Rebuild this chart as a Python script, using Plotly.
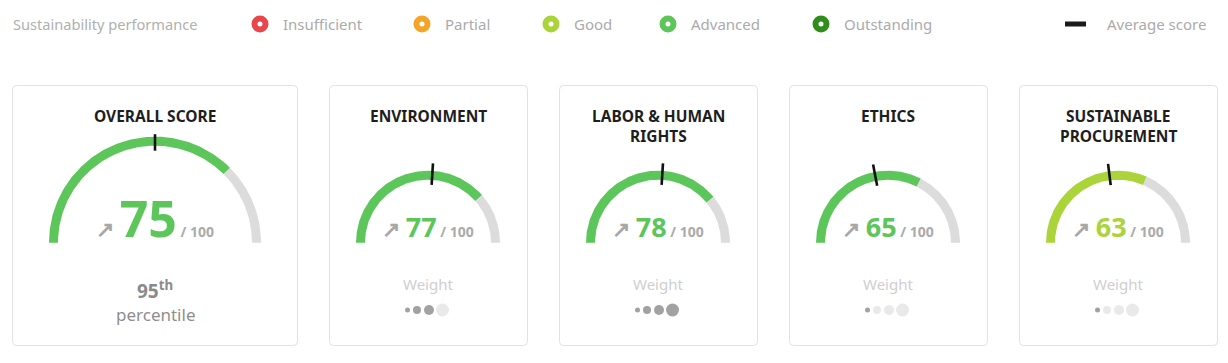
import numpy as np
import plotly.graph_objects as go

# ---------------- data ----------------
pillars = ["OVERALL SCORE", "ENVIRONMENT", "LABOR & HUMAN<br>RIGHTS", "ETHICS",
           "SUSTAINABLE<br>PROCUREMENT"]
scores = [75, 77, 78, 65, 63]
average_scores = [50, 52, 52, 44, 46]
weight_levels = [None, 3, 4, 1, 1]          # weight out of 4 dots
weight_max = 4
overall_percentile = 95
max_score = 100
performance_levels = ["Insufficient", "Partial", "Good", "Advanced", "Outstanding"]
level_thresholds = [0, 25, 45, 65, 85]
legend_title = "Sustainability performance"
average_label = "Average score"
weight_label = "Weight"
percentile_label = "percentile"

# ---------------- style / layout ----------------
W, H = 1228, 363
FONT = "Noto Sans"
level_colors = ["#E8464B", "#F4A426", "#AAD43A", "#5CC65A", "#2F8E1B"]
track_color = "#DCDCDC"
legend_text_color = "#ABABAB"
card_x0 = [12.5, 329.5, 559.5, 789.5, 1019.5]
card_x1 = [297.5, 527.5, 757.5, 987.5, 1217.5]
card_y0, card_y1 = 85.5, 345.5
gauge_cx = [155, 428, 658, 888, 1118]
gauge_cy = 242.7
gauge_r_out = [106, 72, 72, 72, 72]
gauge_thick = 9
tick_r = [(92, 108.5)] + [(58, 79.5)] * 4
num_size = [50, 27, 27, 27, 27]
title_y0, title_dy = 116, 20
legend_y = 24
legend_marker_x = [260, 422, 551, 668, 821]
avg_legend_x = (1065, 1086)
avg_text_x = 1105
dot_dx = [-20.5, -11, 1, 14.5]
dot_size = [5, 8, 10, 13]
dot_on, dot_off = "#7A7A7A", "#E0E0E0"


def level_color(v):
    idx = 0
    for i, t in enumerate(level_thresholds):
        if v >= t:
            idx = i
    return level_colors[idx]


def band(cx, cy, r0, r1, s0, s1, n=140):
    s = np.linspace(s0, s1, n)
    th = np.pi * (1 - s / max_score)
    xo, yo = cx + r1 * np.cos(th), cy - r1 * np.sin(th)
    xi, yi = cx + r0 * np.cos(th[::-1]), cy - r0 * np.sin(th[::-1])
    return np.concatenate([xo, xi, xo[:1]]), np.concatenate([yo, yi, yo[:1]])


def rounded_rect(x0, y0, x1, y1, r=4):
    return (f"M{x0 + r},{y0} L{x1 - r},{y0} Q{x1},{y0} {x1},{y0 + r} "
            f"L{x1},{y1 - r} Q{x1},{y1} {x1 - r},{y1} L{x0 + r},{y1} "
            f"Q{x0},{y1} {x0},{y1 - r} L{x0},{y0 + r} Q{x0},{y0} {x0 + r},{y0} Z")


fig = go.Figure()
shapes, annotations = [], []

# cards
for x0, x1 in zip(card_x0, card_x1):
    shapes.append(dict(type="path", path=rounded_rect(x0, card_y0, x1, card_y1),
                       line=dict(color="#E2E2E2", width=1), fillcolor="white",
                       layer="below", xref="x", yref="y"))

for i, (name, sc, avg) in enumerate(zip(pillars, scores, average_scores)):
    cx, r1 = gauge_cx[i], gauge_r_out[i]
    r0 = r1 - gauge_thick
    col = level_color(sc)
    # grey track (remaining part)
    tx, ty = band(cx, gauge_cy, r0, r1, sc, max_score)
    fig.add_trace(go.Scatter(x=tx, y=ty, mode="lines", fill="toself",
                             fillcolor=track_color, line=dict(width=0, color=track_color),
                             hoverinfo="skip", showlegend=False))
    # score arc
    gx, gy = band(cx, gauge_cy, r0, r1, 0, sc)
    fig.add_trace(go.Scatter(x=gx, y=gy, mode="lines", fill="toself",
                             fillcolor=col, line=dict(width=0, color=col),
                             name=name.replace("<br>", " "), hoverinfo="skip",
                             showlegend=False))
    # average score tick
    th = np.pi * (1 - avg / max_score)
    ra, rb = tick_r[i]
    fig.add_trace(go.Scatter(x=[cx + ra * np.cos(th), cx + rb * np.cos(th)],
                             y=[gauge_cy - ra * np.sin(th), gauge_cy - rb * np.sin(th)],
                             mode="lines", line=dict(color="#111111", width=2.6),
                             hoverinfo="skip", showlegend=False))
    # title (one annotation per line)
    for k, line in enumerate(name.split("<br>")):
        annotations.append(dict(x=cx, y=title_y0 + k * title_dy, text=line,
                                showarrow=False, xanchor="center", yanchor="middle",
                                font=dict(family=FONT, size=15.5, color="#1E1E1E",
                                          weight="bold")))
    # score text
    fs = num_size[i]
    txt = (f"<span style='font-size:22px;color:#A8A8A8'><b>↗&nbsp;</b></span>"
           f"<b>{sc}</b>"
           f"<span style='font-size:14px;color:#ABABAB'><b>&nbsp;/&nbsp;{max_score}</b></span>")
    annotations.append(dict(x=cx, y=239, text=txt, showarrow=False,
                            xanchor="center", yanchor="bottom", yshift=-0.3 * fs,
                            font=dict(family=FONT, size=fs, color=col)))
    if weight_levels[i] is None:
        annotations.append(dict(x=cx, y=290, text=f"<b>{overall_percentile}<sup>th</sup></b>",
                                showarrow=False, xanchor="center", yanchor="middle",
                                font=dict(family=FONT, size=19, color="#8A8A8A")))
        annotations.append(dict(x=cx, y=314, text=percentile_label, showarrow=False,
                                xanchor="center", yanchor="middle",
                                font=dict(family=FONT, size=17, color="#8E8E8E")))
    else:
        annotations.append(dict(x=cx, y=284, text=weight_label, showarrow=False,
                                xanchor="center", yanchor="middle",
                                font=dict(family=FONT, size=15, color="#CFCFCF")))
        fig.add_trace(go.Scatter(
            x=[cx + d for d in dot_dx], y=[310] * weight_max, mode="markers",
            marker=dict(size=dot_size,
                        color=[dot_on if k < weight_levels[i] else dot_off
                               for k in range(weight_max)],
                        line=dict(width=0)),
            hoverinfo="skip", showlegend=False))

# legend row
annotations.append(dict(x=11, y=legend_y, text=legend_title, showarrow=False,
                        xanchor="left", yanchor="middle",
                        font=dict(family=FONT, size=14.6, color="#B0B0B0")))
fig.add_trace(go.Scatter(x=legend_marker_x, y=[legend_y] * len(legend_marker_x),
                         mode="markers",
                         marker=dict(size=11, color="white",
                                     line=dict(color=level_colors, width=6)),
                         hoverinfo="skip", showlegend=False))
for lx, lab in zip(legend_marker_x, performance_levels):
    annotations.append(dict(x=lx + 21, y=legend_y, text=lab, showarrow=False,
                            xanchor="left", yanchor="middle",
                            font=dict(family=FONT, size=15, color=legend_text_color)))
fig.add_trace(go.Scatter(x=list(avg_legend_x), y=[legend_y] * 2, mode="lines",
                         line=dict(color="#1A1A1A", width=5),
                         hoverinfo="skip", showlegend=False))
annotations.append(dict(x=avg_text_x, y=legend_y, text=average_label, showarrow=False,
                        xanchor="left", yanchor="middle",
                        font=dict(family=FONT, size=15, color=legend_text_color)))

fig.update_layout(
    width=W, height=H, margin=dict(l=0, r=0, t=0, b=0),
    paper_bgcolor="white", plot_bgcolor="white",
    xaxis=dict(range=[0, W], visible=False, fixedrange=True),
    yaxis=dict(range=[H, 0], visible=False, fixedrange=True),
    shapes=shapes, annotations=annotations, showlegend=False,
    font=dict(family=FONT), hovermode=False,
)

fig.write_html("out.html", config={"displayModeBar": False},
               post_script="document.body.style.margin='0';")
